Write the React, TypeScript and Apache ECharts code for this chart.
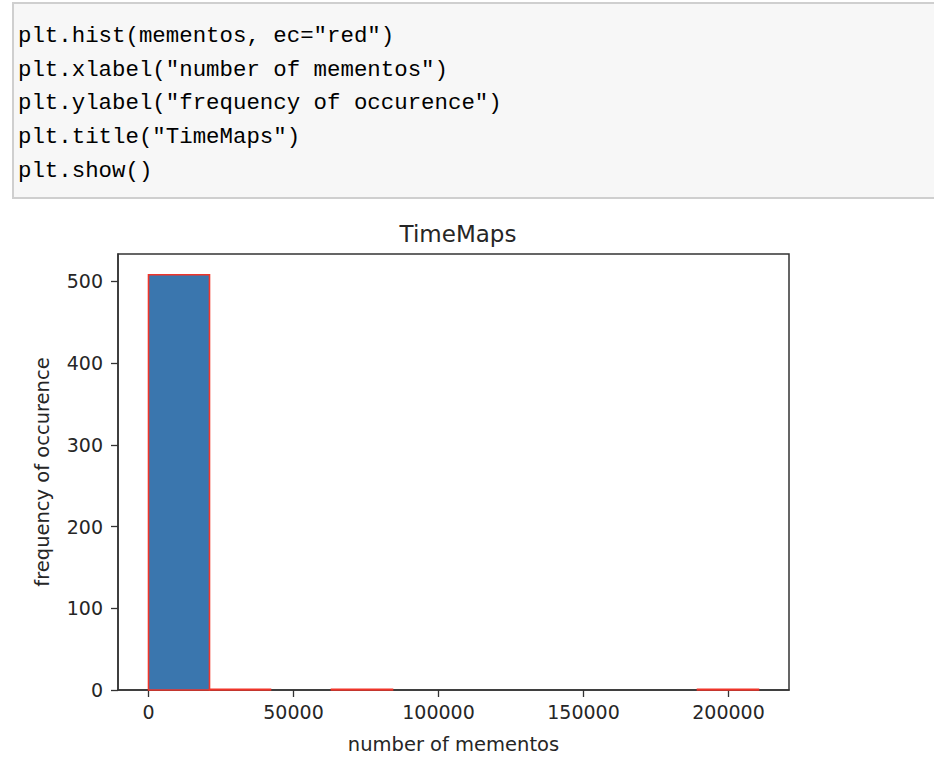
import React, { useEffect, useRef } from "react";
import * as echarts from "echarts";

// ---- data ----
const binEdges = [0, 21035, 42070, 63105, 84140, 105175, 126210, 147245, 168280, 189315, 210350];
const counts = [508, 1, 0, 1, 0, 0, 0, 0, 0, 1];
const xTicks = [0, 50000, 100000, 150000, 200000];
const yTicks = [0, 100, 200, 300, 400, 500];
const xRange = [-10518, 220868];
const yRange = [0, 533.4];

const titleText = "TimeMaps";
const xLabelText = "number of mementos";
const yLabelText = "frequency of occurence";

// code cell: [style, text] segments per line
const codeLines: [string, string][][] = [
  [["k", "plt.hist(mementos, ec"], ["p", "="], ["s", '"red"'], ["k", ")"]],
  [["k", "plt.xlabel("], ["s", '"number of mementos"'], ["k", ")"]],
  [["k", "plt.ylabel("], ["s", '"frequency of occurence"'], ["k", ")"]],
  [["k", "plt.title"], ["g", "("], ["s", '"TimeMaps"'], ["g", ")"]],
  [["k", "plt.show()"]],
];

const MONO = "'Liberation Mono', 'DejaVu Sans Mono', monospace";
const SANS = "'DejaVu Sans', sans-serif";

export default function App() {
  const ref = useRef<HTMLDivElement>(null);

  useEffect(() => {
    if (!ref.current) return;
    const chart = echarts.init(ref.current, null, { renderer: "svg" });

    const codeFont = 22.4;
    const base = { fontFamily: MONO, fontSize: codeFont, fontWeight: "normal" };
    const rich: any = {
      k: { ...base, color: "#000000" },
      p: { ...base, color: "#aa22ff" },
      s: { ...base, color: "#ba2121" },
      g: { ...base, color: "#33aa33" },
    };
    const lineMids = [35.8, 69.6, 103.3, 137.1, 170.8];
    const codeTexts = codeLines.map((segs, i) => ({
      type: "text",
      x: 18,
      y: lineMids[i],
      style: {
        text: segs.map(([k, t]) => `{${k}|${t}}`).join(""),
        rich,
        ...base,
        verticalAlign: "middle",
        align: "left",
        stroke: "transparent",
      },
    }));

    const data = counts.map((c, i) => [binEdges[i], binEdges[i + 1], c]);

    chart.setOption({
      animation: false,
      backgroundColor: "#ffffff",
      title: {
        text: titleText,
        left: 453,
        top: 217,
        textAlign: "center",
        textStyle: { fontFamily: SANS, fontSize: 23, fontWeight: "normal", color: "#262626" },
      },
      grid: {
        left: 118,
        right: 145,
        top: 254,
        bottom: 80,
        show: true,
        borderColor: "#333333",
        borderWidth: 1.5,
        backgroundColor: "transparent",
      },
      xAxis: {
        type: "value",
        min: xRange[0],
        max: xRange[1],
        splitLine: { show: false },
        axisLine: { show: true, onZero: false, lineStyle: { color: "#333333", width: 1.5 } },
        axisTick: { show: true, customValues: xTicks, length: 7, lineStyle: { color: "#333333", width: 1.3 } },
        axisLabel: {
          customValues: xTicks,
          formatter: (v: number) => String(v),
          fontFamily: SANS,
          fontSize: 19,
          color: "#262626",
          margin: 12,
        },
        name: xLabelText,
        nameLocation: "middle",
        nameGap: 44,
        nameTextStyle: { fontFamily: SANS, fontSize: 19.5, color: "#262626" },
      },
      yAxis: {
        type: "value",
        min: yRange[0],
        max: yRange[1],
        splitLine: { show: false },
        axisLine: { show: true, onZero: false, lineStyle: { color: "#333333", width: 1.5 } },
        axisTick: { show: true, customValues: yTicks, length: 7, lineStyle: { color: "#333333", width: 1.3 } },
        axisLabel: {
          customValues: yTicks,
          formatter: (v: number) => String(v),
          fontFamily: SANS,
          fontSize: 19,
          color: "#262626",
          margin: 15,
        },
        name: yLabelText,
        nameLocation: "middle",
        nameGap: 66,
        nameTextStyle: { fontFamily: SANS, fontSize: 19.5, color: "#262626" },
      },
      series: [
        {
          type: "custom",
          data,
          encode: { x: [0, 1], y: 2 },
          renderItem: (params: any, api: any) => {
            const x0 = api.value(0);
            const x1 = api.value(1);
            const c = api.value(2);
            if (!c) return { type: "group", children: [] };
            const p0 = api.coord([x0, c]);
            const p1 = api.coord([x1, 0]);
            return {
              type: "rect",
              shape: { x: p0[0], y: p0[1], width: p1[0] - p0[0], height: p1[1] - p0[1] },
              style: { fill: "#3a76ae", stroke: "#f0352a", lineWidth: 1.6 },
            };
          },
        },
      ],
      graphic: [
        {
          type: "rect",
          z: -10,
          shape: { x: 13, y: 3, width: 1000, height: 195 },
          style: { fill: "#f7f7f7", stroke: "#cfcfcf", lineWidth: 2 },
        },
        ...codeTexts,
      ],
    });

    return () => chart.dispose();
  }, []);

  return (
    <div
      ref={ref}
      style={{ position: "fixed", left: 0, top: 0, width: 934, height: 770 }}
    />
  );
}
